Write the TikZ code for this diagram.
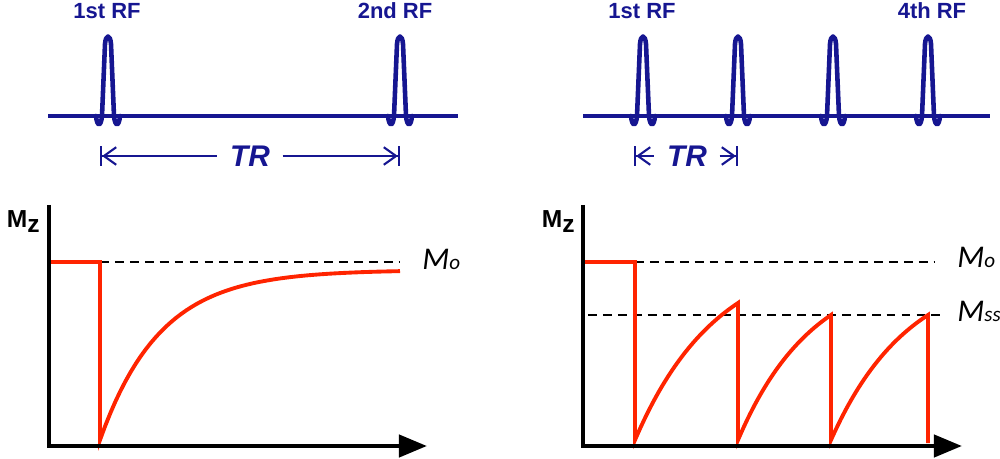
\documentclass[tikz,border=0pt]{standalone}
\usepackage{fontspec}
\setmainfont{Liberation Sans}
\newfontfamily\calibfont{Carlito}
\usetikzlibrary{arrows.meta,positioning}
\definecolor{rfblue}{RGB}{22,22,145}
\definecolor{mzred}{RGB}{255,36,0}

\begin{document}
\begin{tikzpicture}[
    x=0.02cm, y=-0.02cm,
    rflabel/.style={text=rfblue, font=\fontsize{12.5}{14}\selectfont\bfseries, inner sep=0pt},
    trlabel/.style={text=rfblue, font=\fontsize{17}{20}\selectfont\bfseries\itshape, inner xsep=7pt, inner ysep=0pt},
    mzlabel/.style={font=\fontsize{14}{16}\selectfont\bfseries, inner sep=0pt, anchor=base east},
    mlabel/.style={font=\calibfont\itshape\fontsize{18}{20}\selectfont, inner sep=0pt, anchor=base west},
    rfaxis/.style={rfblue, line width=2.6pt},
    pulse/.style={rfblue, line width=2.6pt, line join=round, line cap=round},
    trline/.style={rfblue, line width=1.2pt},
    plotaxis/.style={line width=2.6pt, -{Triangle[length=16pt, width=12.5pt]}},
    refline/.style={line width=1.2pt, dash pattern=on 5pt off 3.5pt},
    magn/.style={mzred, line width=2.2pt},
    rfpulse/.pic={\draw[pulse] (-12,0) .. controls (-11,11) and (-7,11) .. (-6,0) -- (-3,-72) .. controls (-2.2,-82) and (2.2,-82) .. (3,-72) -- (6,0) .. controls (7,11) and (11,11) .. (12,0);}
]
\useasboundingbox (0,0) rectangle (1000,459);

% Left: single RF pair
\draw[rfaxis] (48,116) -- (458,116);
\pic at (108,116) {rfpulse};
\pic at (400,116) {rfpulse};
\node[rflabel] (rf1A) at (107,11) {1st RF};
\node[rflabel] (rf2A) at (395,11) {2nd RF};

\node[trlabel] (trA) at (250,156) {TR};
\coordinate (trA1) at (100,156);
\coordinate (trA2) at (400,156);
\draw[trline, {Bar[width=11pt]Straight Barb[length=7pt,width=10pt]}-] (trA1) -- (trA.west);
\draw[trline, -{Straight Barb[length=7pt,width=10pt]Bar[width=11pt]}] (trA.east) -- (trA2);

% Right: repeated RF pulses
\draw[rfaxis] (583,116) -- (990,116);
\pic at (643,116) {rfpulse};
\pic at (738,116) {rfpulse};
\pic at (833,116) {rfpulse};
\pic at (928,116) {rfpulse};
\node[rflabel] (rf1B) at (642,11) {1st RF};
\node[rflabel] (rf4B) at (932,11) {4th RF};

\node[trlabel] (trB) at (687,156) {TR};
\coordinate (trB1) at (634,156);
\coordinate (trB2) at (738,156);
\draw[trline, {Bar[width=11pt]Straight Barb[length=7pt,width=10pt]}-] (trB1) -- (trB.west);
\draw[trline, -{Straight Barb[length=7pt,width=10pt]Bar[width=11pt]}] (trB.east) -- (trB2);

% Left plot: full recovery
\draw[refline] (100,262) -- (400,262);
\draw[magn] (49,262) -- (100,262) -- (100,440) -- plot[domain=0:300, samples=60] ({100+\x},{270+170*exp(-\x/60)});
\draw[plotaxis] (49,205) -- (49,446) -- (427,446);
\node[mzlabel] (mzA) at (40,228) {M\raisebox{-2.8pt}{z}};
\node[mlabel] (m0A) at (422,269) {M{\fontsize{12}{14}\selectfont o}};

% Right plot: steady state
\draw[refline] (635,262) -- (935,262);
\draw[refline] (588,315) -- (940,315);
\draw[magn] (583,262) -- (635,262) -- (635,440)
    -- plot[domain=0:103, samples=40] ({635+\x},{440-137*(1-exp(-\x/82))/(1-exp(-103/82))})
    -- (738,440)
    -- plot[domain=0:93, samples=40] ({738+\x},{440-125*(1-exp(-\x/75))/(1-exp(-93/75))})
    -- (831,440)
    -- plot[domain=0:97, samples=40] ({831+\x},{440-125*(1-exp(-\x/78))/(1-exp(-97/78))})
    -- (928,443);
\draw[plotaxis] (583,205) -- (583,446) -- (962,446);
\node[mzlabel] (mzB) at (575,228) {M\raisebox{-2.8pt}{z}};
\node[mlabel] (m0B) at (957,267) {M{\fontsize{12}{14}\selectfont o}};
\node[mlabel] (mssB) at (957,321) {M{\fontsize{12}{14}\selectfont ss}};

\end{tikzpicture}
\end{document}
